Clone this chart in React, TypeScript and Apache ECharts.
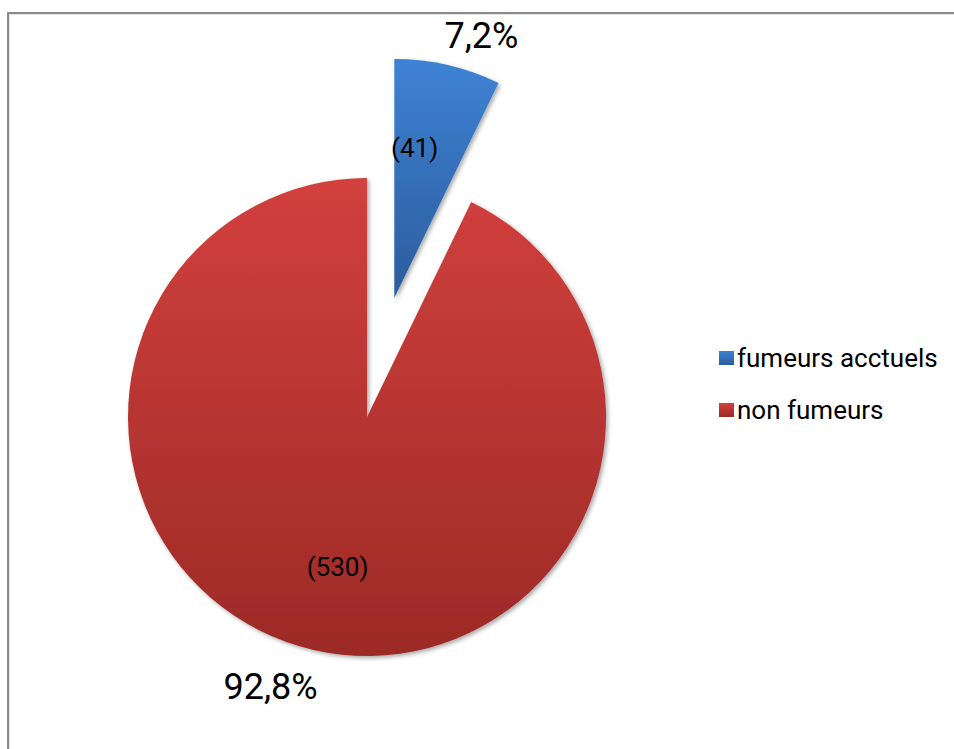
import React, { useEffect, useRef } from "react";
import * as echarts from "echarts";

const categories = ["fumeurs acctuels", "non fumeurs"];
const counts = [41, 530];
const topColors = ["#3e82d4", "#d2403d"];
const bottomColors = ["#2c5c9c", "#9c2a27"];
const innerOffsets = [[-7, -31], [-2, 31]];
const outerOffsets = [[87, -262], [-69, 151]];

export default function App() {
  const ref = useRef<HTMLDivElement>(null);
  useEffect(() => {
    if (!ref.current) return;
    const chart = echarts.init(ref.current, null, { renderer: "svg" });
    const total = counts.reduce((a, b) => a + b, 0);
    const grad = (i: number) =>
      new echarts.graphic.LinearGradient(0, 0, 0, 1, [
        { offset: 0, color: topColors[i] },
        { offset: 1, color: bottomColors[i] },
      ]);
    const mainData = categories.map((name, i) => ({
      name,
      value: counts[i],
      selected: i === 0,
      itemStyle: { color: grad(i) },
      select: { itemStyle: { color: grad(i) } },
    }));
    const labelData = categories.map((name, i) => ({
      name,
      value: counts[i],
    }));
    chart.setOption({
      animation: false,
      graphic: [
        {
          type: "rect",
          shape: { x: 8, y: 13, width: 2000, height: 2000 },
          style: { fill: "none", stroke: "#8a8a8a", lineWidth: 2 },
          silent: true,
          z: -10,
        },
        {
          type: "rect",
          shape: { x: 9.5, y: 14.5, width: 2000, height: 2000 },
          style: { fill: "none", stroke: "#e4e4e4", lineWidth: 1 },
          silent: true,
          z: -10,
        },
      ],
      legend: {
        orient: "vertical",
        left: 714,
        top: 340,
        itemWidth: 15,
        itemHeight: 14,
        itemGap: 26,
        icon: "rect",
        data: categories,
        selectedMode: false,
        textStyle: {
          fontFamily: "Roboto",
          fontSize: 26,
          lineHeight: 26,
          color: "#000",
          padding: [0, 0, 0, -2],
        },
      },
      series: [
        {
          type: "pie",
          center: [367, 417],
          radius: 239,
          startAngle: 90,
          clockwise: true,
          selectedMode: "single",
          selectedOffset: 122,
          silent: true,
          itemStyle: {
            shadowBlur: 4,
            shadowOffsetX: 2,
            shadowOffsetY: 2,
            shadowColor: "rgba(0,0,0,0.35)",
          },
          label: {
            show: true,
            position: "inside",
            fontFamily: "Roboto",
            fontSize: 26,
            color: "#000",
            formatter: (p: any) => `(${p.value})`,
          },
          labelLine: { show: false },
          labelLayout: (p: any) => ({
            dx: innerOffsets[p.dataIndex][0],
            dy: innerOffsets[p.dataIndex][1],
          }),
          data: mainData,
        },
        {
          type: "pie",
          center: [367, 417],
          radius: 239,
          startAngle: 90,
          clockwise: true,
          silent: true,
          selectedMode: false,
          itemStyle: { color: "rgba(0,0,0,0)" },
          label: {
            show: true,
            position: "inside",
            fontFamily: "Roboto",
            fontSize: 36,
            color: "#000",
            formatter: (p: any) =>
              ((p.value / total) * 100).toFixed(1).replace(".", ",") + "%",
          },
          labelLine: { show: false },
          labelLayout: (p: any) => ({
            dx: outerOffsets[p.dataIndex][0],
            dy: outerOffsets[p.dataIndex][1],
          }),
          data: labelData,
          z: 5,
        },
      ],
    });
    return () => chart.dispose();
  }, []);
  return (
    <div
      ref={ref}
      style={{ position: "fixed", left: 0, top: 0, width: 954, height: 749, background: "#fff" }}
    />
  );
}
